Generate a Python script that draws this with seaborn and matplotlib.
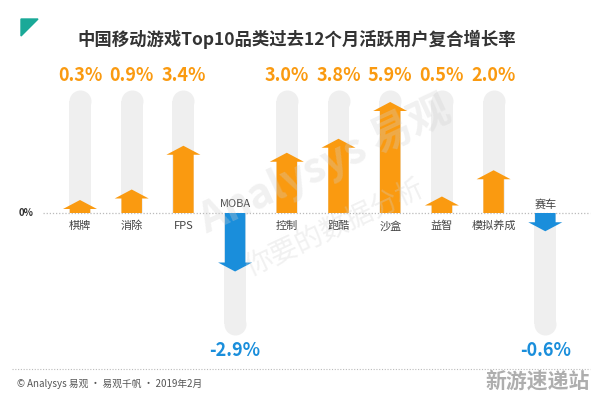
import numpy as np
import pandas as pd
import matplotlib
matplotlib.use("Agg")
import matplotlib.pyplot as plt
from matplotlib.patches import FancyArrow, Polygon
from matplotlib.lines import Line2D
import seaborn as sns

# ---- data ----
categories = ["棋牌", "消除", "FPS", "MOBA", "控制", "跑酷", "沙盒", "益智", "模拟养成", "赛车"]
growth = [0.3, 0.9, 3.4, -2.9, 3.0, 3.8, 5.9, 0.5, 2.0, -0.6]
value_labels = ["0.3%", "0.9%", "3.4%", "-2.9%", "3.0%", "3.8%", "5.9%", "0.5%", "2.0%", "-0.6%"]
title = "中国移动游戏Top10品类过去12个月活跃用户复合增长率"
footer = "© Analysys 易观 · 易观千帆 · 2019年2月"

# ---- style ----
W, H = 596, 395
ORANGE = "#FA9A10"
BLUE = "#1A8EDB"
GRAY_BG = "#EFEFEF"
PX_PER_PCT = 17.5
ZERO_Y = 213
X0, DX = 80, 51.7

sns.set_style("white")
plt.rcParams["font.family"] = ["Noto Sans CJK SC", "DejaVu Sans"]

fig = plt.figure(figsize=(W / 100, H / 100), dpi=100)
ax = fig.add_axes([0, 0, 1, 1])

def px2pct(py):
    return (ZERO_Y - py) / PX_PER_PCT

r_pct = 11 / PX_PER_PCT
bg_top = px2pct(90)
bg_bot = px2pct(335)
df = pd.DataFrame({"cat": categories, "val": growth})
df["bg"] = np.where(df["val"] >= 0, bg_top - r_pct, bg_bot + r_pct)

sns.barplot(data=df, x="cat", y="bg", order=categories, color=GRAY_BG,
            width=22 / DX, edgecolor="none", saturation=1, ax=ax, zorder=1)
sns.scatterplot(x=np.arange(len(categories)), y=df["bg"], color=GRAY_BG,
                s=(22 * 0.72) ** 2, linewidth=0, ax=ax, zorder=1, legend=False)

offset = 7.75 / PX_PER_PCT
for i, v in enumerate(growth):
    sgn = 1 if v >= 0 else -1
    length = v + sgn * offset
    col = ORANGE if v >= 0 else BLUE
    arr = FancyArrow(i, 0, 0, length, width=20.5 / DX, head_width=34 / DX,
                     head_length=9 / PX_PER_PCT, length_includes_head=True,
                     color=col, linewidth=0, zorder=3)
    ax.add_patch(arr)
    ax.text(i, px2pct(76) if v >= 0 else px2pct(350), value_labels[i],
            ha="center", va="center", fontsize=13, fontweight="bold",
            color=col, zorder=4)
    ax.text(i, px2pct(226) if v >= 0 else px2pct(204), categories[i],
            ha="center", va="center", fontsize=8, color="#444444", zorder=4)

ax.set_xlim(-X0 / DX, (W - X0) / DX)
ax.set_ylim(px2pct(H), px2pct(0))
ax.axis("off")

# zero line
ax.plot([(43 - X0) / DX, (590 - X0) / DX], [0, 0], color="#BBBBBB",
        lw=0.9, ls=(0, (1, 1.5)), zorder=2)
ax.text((26 - X0) / DX, 0, "0%", ha="center", va="center", fontsize=7,
        fontweight="bold", color="#333333")

# watermark
fig.text(325 / W, 1 - 165 / H, "Analysys 易观", rotation=25, fontsize=30,
         color="#D0D0D0", alpha=0.3, ha="center", va="center", fontweight="bold", zorder=5)
fig.text(335 / W, 1 - 228 / H, "你要的数据分析", rotation=25, fontsize=20,
         color="#D0D0D0", alpha=0.3, ha="center", va="center", zorder=5)

# title + marker
fig.patches.append(Polygon([[21 / W, 1 - 19 / H], [38 / W, 1 - 19 / H], [21 / W, 1 - 36 / H]],
                           closed=True, transform=fig.transFigure, color="#1AA998"))
fig.text(297 / W, 1 - 39 / H, title, ha="center", va="center", fontsize=12.5,
         fontweight="bold", color="#333333")

# footer
fig.lines.append(Line2D([12 / W, 590 / W], [1 - 369 / H, 1 - 369 / H], transform=fig.transFigure,
                        color="#BBBBBB", lw=0.8, ls=(0, (1, 1.5))))
fig.text(17 / W, 1 - 384 / H, footer, ha="left", va="center", fontsize=7, color="#555555")
fig.text(590 / W, 1 - 381 / H, "新游速递站", ha="right", va="center", fontsize=15,
         fontweight="bold", color="#9A9A9A", alpha=0.8)

fig.savefig("out.png", dpi=100, facecolor="white")
